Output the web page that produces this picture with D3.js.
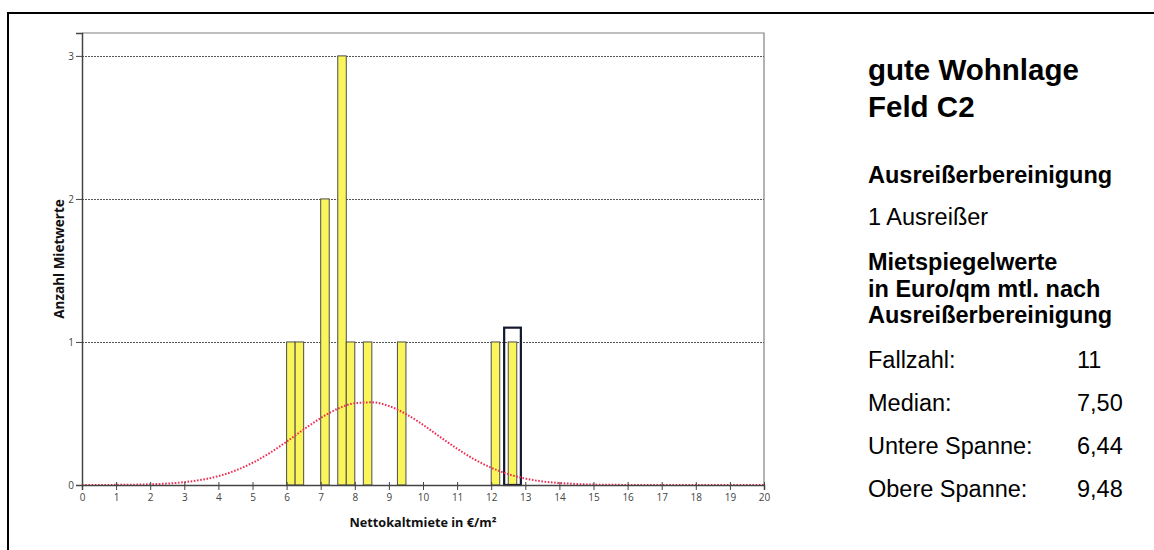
<!DOCTYPE html>
<html>
<head>
<meta charset="utf-8">
<script src="https://cdn.jsdelivr.net/npm/d3@7"></script>
<style>
  html, body { margin: 0; padding: 0; background: #fff; }
  svg { display: block; }
</style>
</head>
<body>
<svg id="chart" width="1154" height="550"></svg>
<script>
// Histogram of net rents (0.25 €/m² classes)
const binStarts = [6.0, 6.25, 7.0, 7.5, 7.75, 8.25, 9.25, 12.0, 12.5];
const binCounts = [1, 1, 2, 3, 1, 1, 1, 1, 1];
const binWidth = 0.25;
// class flagged as outlier (framed)
const outlierBins = [12.5];

// fitted normal curve, sampled along the x axis
const curveX = [0, 1, 2, 2.5, 3, 3.5, 4, 4.5, 5, 5.5, 6, 6.5, 7, 7.5, 8, 8.5, 9, 9.5, 10, 10.5, 11, 11.5, 12, 12.5, 13, 13.5, 14, 14.5, 15, 16, 17, 18, 19, 20];
const curveY = [0, 0.001, 0.005, 0.010, 0.020, 0.036, 0.062, 0.101, 0.155, 0.223, 0.303, 0.388, 0.468, 0.533, 0.572, 0.578, 0.552, 0.496, 0.421, 0.336, 0.254, 0.180, 0.121, 0.076, 0.045, 0.025, 0.014, 0.007, 0.003, 0.0006, 0, 0, 0, 0];

const xTicks = [0, 1, 2, 3, 4, 5, 6, 7, 8, 9, 10, 11, 12, 13, 14, 15, 16, 17, 18, 19, 20];
const yTicks = [0, 1, 2, 3];
const gridValues = [1, 2, 3];

const xTitle = "Nettokaltmiete in €/m²";
const yTitle = "Anzahl Mietwerte";

const panelTitle = ["gute Wohnlage", "Feld C2"];
const outlierHeading = "Ausreißerbereinigung";
const outlierNote = "1 Ausreißer";
const valuesHeading = ["Mietspiegelwerte", "in Euro/qm mtl. nach", "Ausreißerbereinigung"];
const statLabels = ["Fallzahl:", "Median:", "Untere Spanne:", "Obere Spanne:"];
const statValues = ["11", "7,50", "6,44", "9,48"];

const svg = d3.select("#chart");

// outer frame
svg.append("rect")
  .attr("x", 8).attr("y", 13)
  .attr("width", 1160).attr("height", 600)
  .attr("fill", "none").attr("stroke", "#000").attr("stroke-width", 2);

const plot = { left: 82, right: 764, top: 33, bottom: 485 };

const x = d3.scaleLinear().domain([0, 20]).range([plot.left, plot.right]);
const y = d3.scaleLinear().domain([0, 3.16]).range([plot.bottom, plot.top]);

// plot border (top and right)
svg.append("path")
  .attr("d", `M${plot.left},${plot.top}H${plot.right}V${plot.bottom}`)
  .attr("fill", "none").attr("stroke", "#808080").attr("stroke-width", 1.2);

// dotted grid lines
svg.append("g").selectAll("line").data(gridValues).join("line")
  .attr("x1", plot.left).attr("x2", plot.right)
  .attr("y1", d => Math.round(y(d)) + 0.5).attr("y2", d => Math.round(y(d)) + 0.5)
  .attr("stroke", "#555").attr("stroke-width", 1)
  .attr("stroke-dasharray", "2,1");

// bars
const bars = binStarts.map((s, i) => ({ start: s, count: binCounts[i] }));
svg.append("g").selectAll("rect").data(bars).join("rect")
  .attr("x", d => x(d.start))
  .attr("y", d => y(d.count))
  .attr("width", d => x(d.start + binWidth) - x(d.start))
  .attr("height", d => y(0) - y(d.count))
  .attr("fill", "#fbf55c")
  .attr("stroke", "#4d4d4d")
  .attr("stroke-width", 1);

// outlier frame
svg.append("g").selectAll("rect").data(outlierBins).join("rect")
  .attr("x", d => x(d - 0.12))
  .attr("y", y(1.1))
  .attr("width", d => x(d + binWidth + 0.12) - x(d - 0.12))
  .attr("height", y(0) - y(1.1))
  .attr("fill", "none")
  .attr("stroke", "#14182e")
  .attr("stroke-width", 2.2);

// normal curve
const line = d3.line()
  .x((d, i) => x(curveX[i]))
  .y(d => y(d))
  .curve(d3.curveMonotoneX);
svg.append("path")
  .datum(curveY)
  .attr("d", line)
  .attr("fill", "none")
  .attr("stroke", "#ec2f55")
  .attr("stroke-width", 2)
  .attr("stroke-dasharray", "1.6,1.6");

// x axis
const xAxis = svg.append("g")
  .attr("transform", `translate(0,${plot.bottom})`)
  .call(d3.axisBottom(x).tickValues(xTicks).tickSize(5).tickPadding(4).tickFormat(d3.format("d")));
xAxis.select(".domain").attr("stroke", "#444").attr("stroke-width", 1.5);
xAxis.selectAll(".tick line").attr("y1", -3).attr("stroke", "#444");
xAxis.selectAll(".tick text")
  .attr("fill", "#444")
  .style("font-family", "'Open Sans', sans-serif")
  .style("font-size", "10px");

// y axis
const yAxis = svg.append("g")
  .attr("transform", `translate(${plot.left},0)`)
  .call(d3.axisLeft(y).tickValues(yTicks).tickSize(6).tickPadding(2).tickFormat(d3.format("d")));
yAxis.select(".domain").attr("stroke", "#444").attr("stroke-width", 1.5);
yAxis.selectAll(".tick line").attr("stroke", "#444");
yAxis.selectAll(".tick text")
  .attr("fill", "#444")
  .style("font-family", "'Open Sans', sans-serif")
  .style("font-size", "10px");

// axis titles
svg.append("text")
  .attr("x", (plot.left + plot.right) / 2).attr("y", 527)
  .attr("text-anchor", "middle")
  .style("font-family", "'Open Sans', sans-serif")
  .style("font-weight", "bold").style("font-size", "12.7px")
  .attr("fill", "#111")
  .text(xTitle);

svg.append("text")
  .attr("transform", `translate(59,${(plot.top + plot.bottom) / 2}) rotate(-90)`)
  .attr("text-anchor", "middle")
  .attr("dy", "0.35em")
  .style("font-family", "'Open Sans', sans-serif")
  .style("font-weight", "bold").style("font-size", "13.5px")
  .attr("fill", "#111")
  .text(yTitle);

// side panel
const panel = svg.append("g")
  .style("font-family", "'Liberation Sans', Arial, sans-serif")
  .attr("fill", "#000");
const px = 868;
const bodySize = "23.5px";

panel.selectAll("text.title").data(panelTitle).join("text")
  .attr("class", "title")
  .attr("x", px).attr("y", (d, i) => 80 + i * 37)
  .style("font-weight", "bold").style("font-size", "29.5px")
  .text(d => d);

panel.append("text")
  .attr("x", px).attr("y", 183)
  .style("font-weight", "bold").style("font-size", bodySize)
  .text(outlierHeading);

panel.append("text")
  .attr("x", px).attr("y", 225)
  .style("font-size", bodySize)
  .text(outlierNote);

panel.selectAll("text.vh").data(valuesHeading).join("text")
  .attr("class", "vh")
  .attr("x", px).attr("y", (d, i) => 270 + i * 26.7)
  .style("font-weight", "bold").style("font-size", bodySize)
  .text(d => d);

panel.selectAll("text.sl").data(statLabels).join("text")
  .attr("class", "sl")
  .attr("x", px).attr("y", (d, i) => 368 + i * 43)
  .style("font-size", bodySize)
  .text(d => d);

panel.selectAll("text.sv").data(statValues).join("text")
  .attr("class", "sv")
  .attr("x", 1077).attr("y", (d, i) => 368 + i * 43)
  .style("font-size", bodySize)
  .text(d => d);
</script>
</body>
</html>
